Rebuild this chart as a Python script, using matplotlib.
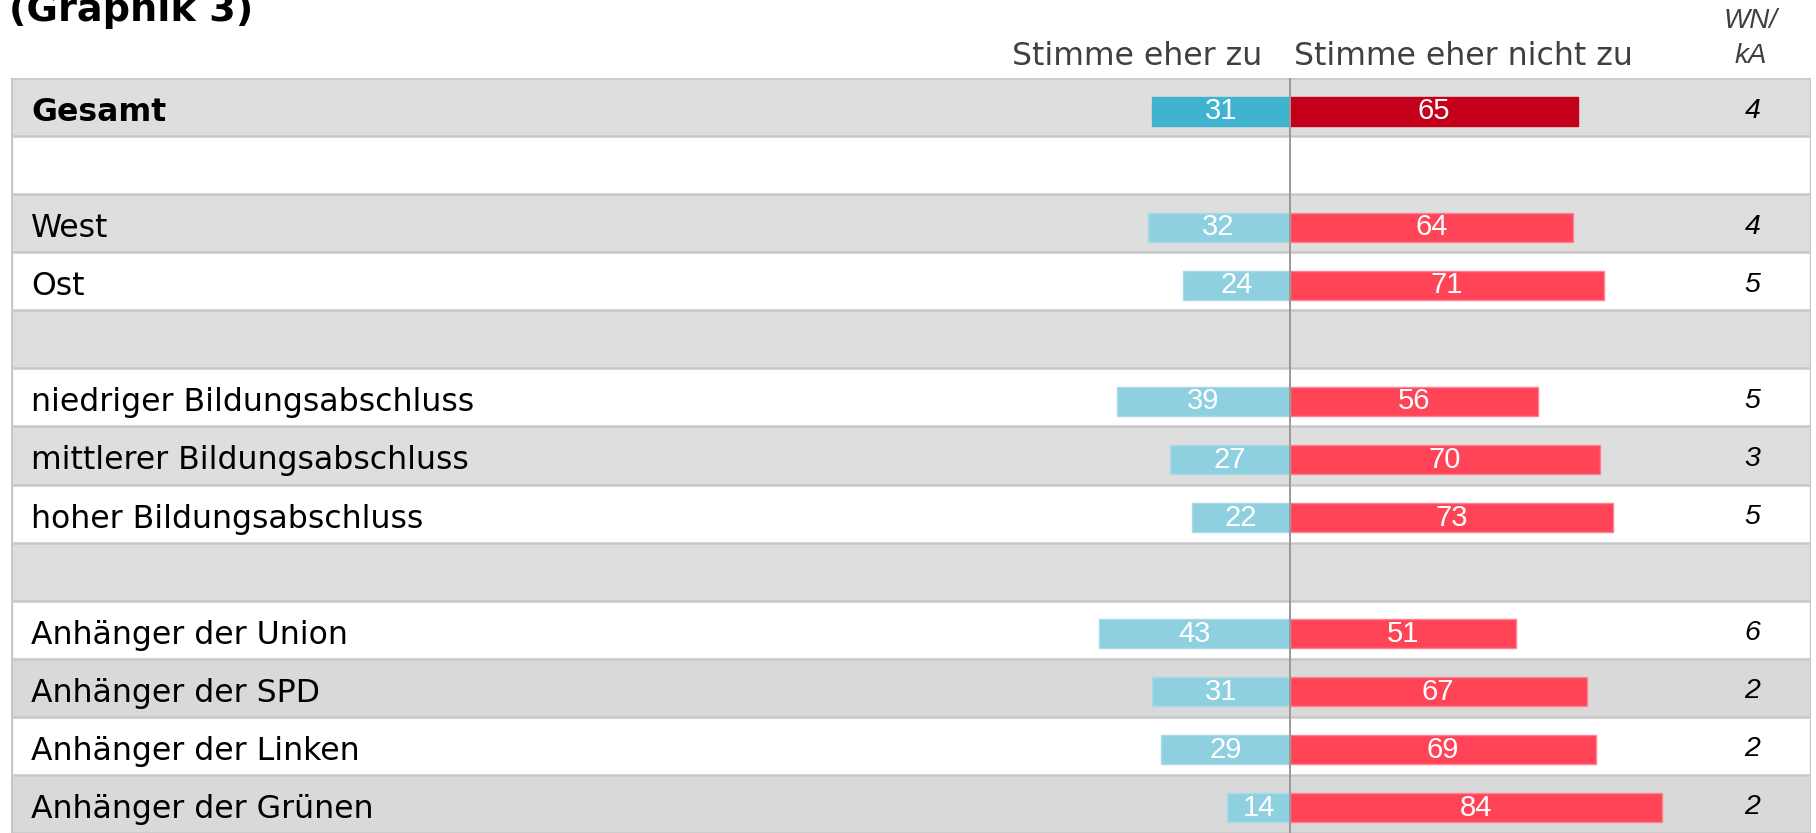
import matplotlib
matplotlib.use("Agg")
import matplotlib.pyplot as plt
from matplotlib.transforms import blended_transform_factory

# ---- data ----
categories = ["Gesamt", "", "West", "Ost", "",
              "niedriger Bildungsabschluss", "mittlerer Bildungsabschluss",
              "hoher Bildungsabschluss", "",
              "Anhänger der Union", "Anhänger der SPD",
              "Anhänger der Linken", "Anhänger der Grünen"]
stimme_zu = [31, None, 32, 24, None, 39, 27, 22, None, 43, 31, 29, 14]
stimme_nicht_zu = [65, None, 64, 71, None, 56, 70, 73, None, 51, 67, 69, 84]
wn_ka = [4, None, 4, 5, None, 5, 3, 5, None, 6, 2, 2, 2]
header_left = "Stimme eher zu"
header_right = "Stimme eher nicht zu"
header_wnka = ["WN/", "kA"]
title = "(Graphik 3)"

num_family = ["Liberation Sans", "DejaVu Sans"]

W, H = 1816, 833
fig = plt.figure(figsize=(W / 100, H / 100), dpi=100)

ax_left_px, ax_right_px = 11, 1811
ax_top_px = 78
center_px = 1289.5
px_per_unit = 4.435

ax = fig.add_axes([ax_left_px / W, 0, (ax_right_px - ax_left_px) / W, (H - ax_top_px) / H])
n = len(categories)
row_px = (H - ax_top_px) / n
ax.set_xlim(-(center_px - ax_left_px) / px_per_unit, (ax_right_px - center_px) / px_per_unit)
ax.set_ylim(n - 0.5, -0.5)
ax.set_axis_off()

grey = "#dedede"
grey2 = "#d9d9d9"
sep = "#c8c8c8"

# row backgrounds
for i in range(n):
    if i % 2 == 0:
        col = grey if i < 10 else grey2
        ax.axhspan(i - 0.5, i + 0.5, color=col, zorder=0, lw=0)
for i in range(n + 1):
    ax.axhline(i - 0.5, color=sep, lw=1.8, zorder=1)
ax.axvline(ax.get_xlim()[0], color=sep, lw=2.5, zorder=1)
ax.axvline(ax.get_xlim()[1], color=sep, lw=2.5, zorder=1)

bt = blended_transform_factory(ax.transAxes, ax.transData)
bar_off = 4 / row_px
label_base = 14 / row_px
wn_base = 10.5 / row_px

for i, cat in enumerate(categories):
    if cat:
        ax.text(20 / 1800, i + label_base, cat, transform=bt,
                ha="left", va="baseline", fontsize=22.7, family="DejaVu Sans",
                fontweight="bold" if i == 0 else "normal", color="black", zorder=5)
    if stimme_zu[i] is None:
        continue
    if i == 0:
        cb, cr = "#3fb3cf", "#c5001a"
        eb, er = "#3fb3cf", "#c5001a"
    else:
        cb, cr = "#8ed0e0", "#ff4458"
        eb, er = "#a8dbe8", "#ff8090"
    y = i + bar_off
    ax.barh(y, -stimme_zu[i], left=0, height=0.5, color=cb, edgecolor=eb, lw=1, zorder=2)
    ax.barh(y, stimme_nicht_zu[i], left=0, height=0.5, color=cr, edgecolor=er, lw=1, zorder=2)
    ax.text(-stimme_zu[i] / 2, y, str(stimme_zu[i]), ha="center", va="center",
            color="white", fontsize=21, family=num_family, zorder=4)
    ax.text(stimme_nicht_zu[i] / 2, y, str(stimme_nicht_zu[i]), ha="center", va="center",
            color="white", fontsize=21, family=num_family, zorder=4)
    ax.text((1752.5 - ax_left_px) / 1800, i + wn_base, str(wn_ka[i]), transform=bt,
            ha="center", va="baseline", fontsize=20.5, style="italic",
            color="black", family=num_family, zorder=4)

ax.axvline(0, color="#999999", lw=1.4, zorder=3)

# headers
fig.text(1262 / W, 1 - 65 / H, header_left, ha="right", va="baseline",
         fontsize=22.7, color="#404040", family="DejaVu Sans")
fig.text(1294 / W, 1 - 65 / H, header_right, ha="left", va="baseline",
         fontsize=22.7, color="#404040", family="DejaVu Sans")
fig.text(1751 / W, 1 - 28 / H, header_wnka[0], ha="center", va="baseline",
         fontsize=20, style="italic", color="#404040", family=num_family)
fig.text(1751 / W, 1 - 63 / H, header_wnka[1], ha="center", va="baseline",
         fontsize=20, style="italic", color="#404040", family=num_family)

fig.text(9 / W, 1 - 21 / H, title, ha="left", va="baseline", fontsize=27.5,
         fontweight="bold", color="black", family="DejaVu Sans")

fig.savefig("out.png", dpi=100)
